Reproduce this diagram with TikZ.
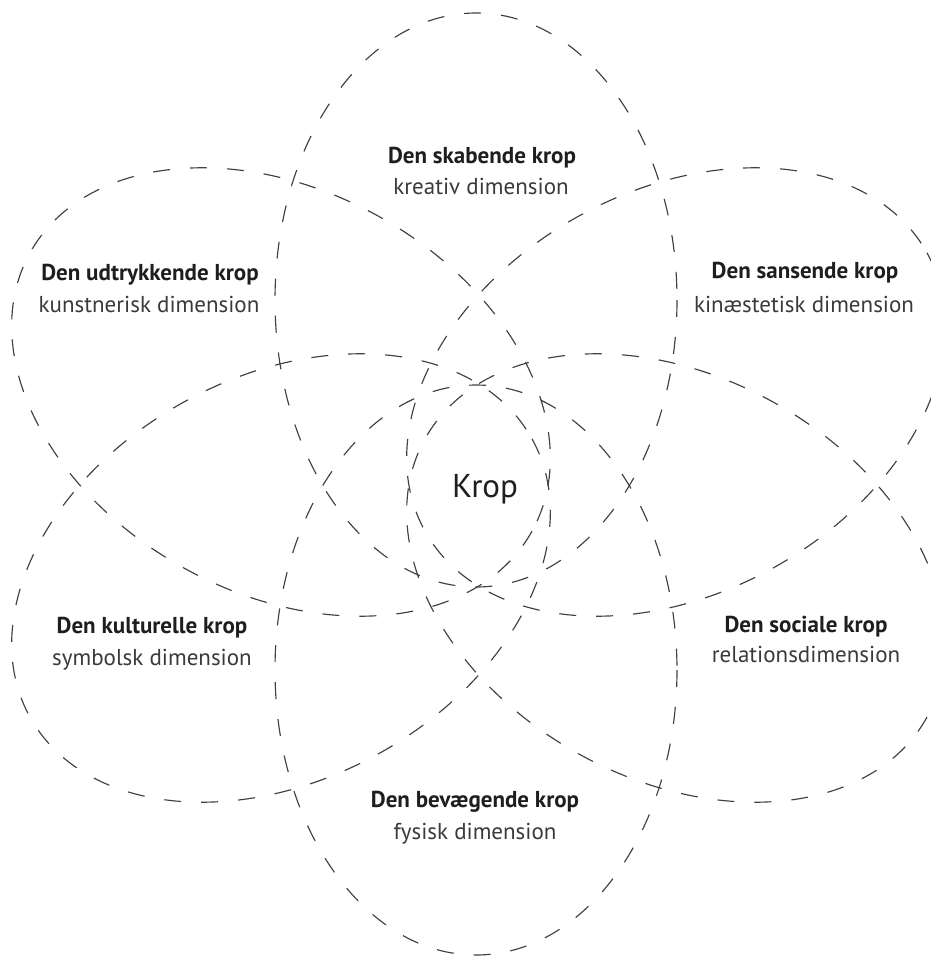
\documentclass[tikz,border=0pt]{standalone}
\usepackage{fontspec}
\setmainfont{PT Sans}
\definecolor{dashc}{HTML}{404040}
\definecolor{titc}{HTML}{1E1E1E}
\definecolor{subc}{HTML}{3A3A3A}
\begin{document}
\begin{tikzpicture}[x=1pt,y=-1pt,
  ell/.style={draw=dashc, line width=1.15pt, dash pattern=on 17pt off 20pt},
  ttl/.style={anchor=base, font=\fontsize{23}{27}\selectfont\bfseries, text=titc, inner sep=0pt},
  sub/.style={anchor=base, font=\fontsize{23}{27}\selectfont, text=subc, inner sep=0pt},
  ctr/.style={anchor=base, font=\fontsize{33}{38}\selectfont, text=titc, inner sep=0pt}]
\useasboundingbox (0,0) rectangle (931,958);
\begin{scope}
\clip (0,0) rectangle (931,958);
% six dashed ellipses
\draw[ell] (476,300) ellipse [x radius=201, y radius=287];
\draw[ell] (476,670) ellipse [x radius=201, y radius=285];
\draw[ell] (281,392) ellipse [x radius=287, y radius=201, rotate=-29];
\draw[ell] (281,578) ellipse [x radius=287, y radius=201, rotate=29];
\draw[ell] (676,392) ellipse [x radius=287, y radius=201, rotate=29];
\draw[ell] (676,578) ellipse [x radius=287, y radius=201, rotate=-29];
\end{scope}
% labels
\node[ctr] (krop) at (485,497) {Krop};
\node[ttl] (t1) at (482,163) {Den skabende krop};
\node[sub] (s1) at (481,194) {kreativ dimension};
\node[ttl] (t2) at (805,278) {Den sansende krop};
\node[sub] (s2) at (804,312) {kinæstetisk dimension};
\node[ttl] (t3) at (806,632) {Den sociale krop};
\node[sub] (s3) at (806,662) {relationsdimension};
\node[ttl] (t4) at (475,807) {Den bevægende krop};
\node[sub] (s4) at (475,839) {fysisk dimension};
\node[ttl] (t5) at (152,633) {Den kulturelle krop};
\node[sub] (s5) at (152,665) {symbolsk dimension};
\node[ttl] (t6) at (150,280) {Den udtrykkende krop};
\node[sub] (s6) at (149,312) {kunstnerisk dimension};
\end{tikzpicture}
\end{document}
